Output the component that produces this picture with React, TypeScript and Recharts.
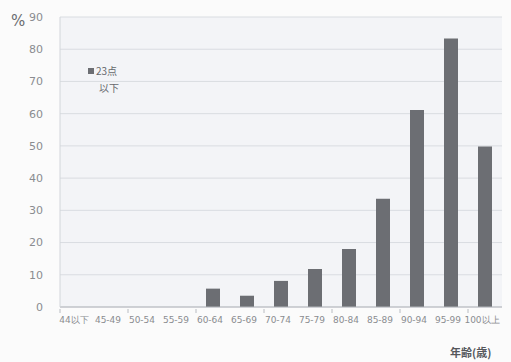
import React from 'react';
import { BarChart, Bar, XAxis, YAxis, CartesianGrid } from 'recharts';

const categories = ['44以下', '45-49', '50-54', '55-59', '60-64', '65-69', '70-74', '75-79', '80-84', '85-89', '90-94', '95-99', '100以上'];
const values = [0, 0, 0, 0, 5.7, 3.5, 8.1, 11.8, 18.0, 33.6, 61.1, 83.3, 49.8];
const yTicks = [0, 10, 20, 30, 40, 50, 60, 70, 80, 90];
const seriesName = '23点以下';

const data = categories.map((c, i) => ({ name: c, v: values[i] }));

const BAR = '#6c6e73';

const XTick = (props: any) => {
  const { x, y, payload, index } = props;
  const off = payload && payload.offset != null ? payload.offset : 17;
  return (
    <g>
      {index % 2 === 0 && (
        <line x1={x - off} x2={x - off} y1={y - 6} y2={y - 2} stroke="#b9bcc2" strokeWidth={1} />
      )}
      <text x={x - 3} y={y + 8} textAnchor="middle" fontSize={9} fill="#8a8c90" fontFamily="DejaVu Sans">
        {payload.value}
      </text>
    </g>
  );
};

export default function App() {
  return (
    <div style={{ position: 'absolute', left: 0, top: 0, width: 511, height: 362, background: '#fbfbfb' }}>
      <BarChart width={511} height={362} data={data} margin={{ top: 17, right: 9, bottom: 25, left: 0 }}>
        <CartesianGrid vertical={false} stroke="#d9dce1" fill="#f3f4f7" />
        <XAxis
          dataKey="name"
          height={30}
          interval={0}
          tickLine={false}
          axisLine={{ stroke: '#b3b6bb' }}
          tick={<XTick />}
          label={{
            content: () => (
              <text x={450} y={357} fontSize={11} fontWeight="bold" fill="#55575b" fontFamily="Noto Sans CJK JP">年齢(歳)</text>
            ),
          }}
        />
        <YAxis
          width={60}
          domain={[0, 90]}
          ticks={yTicks}
          interval={0}
          tickLine={false}
          tickMargin={11}
          axisLine={{ stroke: '#d2d5da' }}
          tick={{ fontSize: 11, fill: '#8a8c90', fontFamily: 'DejaVu Sans' }}
          label={{
            content: () => (
              <text x={11} y={26} fontSize={15} fill="#6a6c70" fontFamily="DejaVu Sans">%</text>
            ),
          }}
        />
        <Bar dataKey="v" name={seriesName} fill={BAR} barSize={14} isAnimationActive={false} />
      </BarChart>
      <div style={{ position: 'absolute', left: 88, top: 63, width: 50, height: 34, fontFamily: 'Noto Sans CJK JP, DejaVu Sans', color: '#66686c', fontSize: 10, lineHeight: '16px' }}>
        <div style={{ position: 'absolute', left: 0, top: 5, width: 6, height: 6, background: BAR }} />
        <div style={{ position: 'absolute', left: 8, top: 0 }}>{seriesName.slice(0, 3)}</div>
        <div style={{ position: 'absolute', left: 11, top: 17 }}>{seriesName.slice(3)}</div>
      </div>
    </div>
  );
}
